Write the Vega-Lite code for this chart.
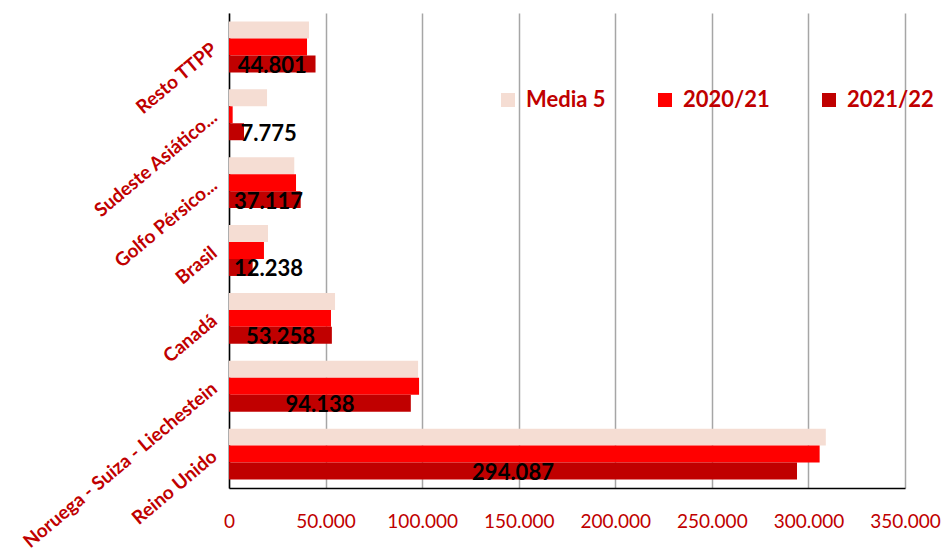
{
  "$schema": "https://vega.github.io/schema/vega-lite/v6.json",
  "width": 676,
  "height": 475,
  "autosize": {"type": "none"},
  "padding": {"left": 229, "top": 13, "right": 47, "bottom": 60},
  "background": "white",
  "config": {
    "locale": {"number": {"decimal": ",", "thousands": ".", "grouping": [3], "currency": ["", " €"]}},
    "view": {"stroke": null}
  },
  "data": {
    "values": [
      {"region": "Resto TTPP", "serie": "Media 5", "valor": 41400},
      {"region": "Resto TTPP", "serie": "2020/21", "valor": 40400},
      {"region": "Resto TTPP", "serie": "2021/22", "valor": 44801},
      {"region": "Sudeste Asiático...", "serie": "Media 5", "valor": 19700},
      {"region": "Sudeste Asiático...", "serie": "2020/21", "valor": 1900},
      {"region": "Sudeste Asiático...", "serie": "2021/22", "valor": 7775},
      {"region": "Golfo Pérsico...", "serie": "Media 5", "valor": 33800},
      {"region": "Golfo Pérsico...", "serie": "2020/21", "valor": 34700},
      {"region": "Golfo Pérsico...", "serie": "2021/22", "valor": 37117},
      {"region": "Brasil", "serie": "Media 5", "valor": 20200},
      {"region": "Brasil", "serie": "2020/21", "valor": 18100},
      {"region": "Brasil", "serie": "2021/22", "valor": 12238},
      {"region": "Canadá", "serie": "Media 5", "valor": 54900},
      {"region": "Canadá", "serie": "2020/21", "valor": 52800},
      {"region": "Canadá", "serie": "2021/22", "valor": 53258},
      {"region": "Noruega - Suiza - Liechestein", "serie": "Media 5", "valor": 97900},
      {"region": "Noruega - Suiza - Liechestein", "serie": "2020/21", "valor": 98400},
      {"region": "Noruega - Suiza - Liechestein", "serie": "2021/22", "valor": 94138},
      {"region": "Reino Unido", "serie": "Media 5", "valor": 309000},
      {"region": "Reino Unido", "serie": "2020/21", "valor": 305800},
      {"region": "Reino Unido", "serie": "2021/22", "valor": 294087}
    ]
  },
  "encoding": {
    "y": {
      "field": "region",
      "type": "nominal",
      "sort": ["Resto TTPP", "Sudeste Asiático...", "Golfo Pérsico...", "Brasil", "Canadá", "Noruega - Suiza - Liechestein", "Reino Unido"],
      "scale": {"paddingInner": 0.25, "paddingOuter": 0.125},
      "axis": {
        "title": null,
        "ticks": false,
        "grid": false,
        "labelAngle": -40,
        "labelAlign": "right",
        "labelBaseline": "middle",
        "labelColor": "#C00000",
        "labelFont": "Lato",
        "labelFontWeight": "bold",
        "labelFontSize": 19,
        "labelPadding": 15,
        "labelLimit": 400,
        "domainColor": "#000000",
        "domainWidth": 1.5
      }
    },
    "yOffset": {
      "field": "serie",
      "type": "nominal",
      "scale": {"domain": ["Media 5", "2020/21", "2021/22"], "paddingInner": 0, "paddingOuter": 0}
    }
  },
  "layer": [
    {
      "mark": {"type": "bar"},
      "encoding": {
        "x": {
          "field": "valor",
          "type": "quantitative",
          "scale": {"domain": [0, 350000], "nice": false},
          "axis": {
            "title": null,
            "values": [0, 50000, 100000, 150000, 200000, 250000, 300000, 350000],
            "format": ",.0f",
            "ticks": false,
            "labelColor": "#C00000",
            "labelFont": "Lato",
            "labelFontSize": 19,
            "labelPadding": 24,
            "labelFlush": false,
            "domainColor": "#000000",
            "domainWidth": 1.5,
            "gridColor": "#A6A6A6",
            "gridWidth": 1.5
          }
        },
        "color": {
          "field": "serie",
          "type": "nominal",
          "scale": {"domain": ["Media 5", "2020/21", "2021/22"], "range": ["#F5DDD3", "#FF0000", "#C00000"]},
          "legend": {
            "orient": "none",
            "legendX": 268,
            "legendY": 76,
            "direction": "horizontal",
            "columns": 3,
            "title": null,
            "symbolType": "square",
            "symbolSize": 196,
            "symbolStrokeWidth": 0,
            "labelFont": "Lato",
            "labelFontSize": 22,
            "labelFontWeight": "bold",
            "labelColor": "#C00000",
            "labelOffset": 7,
            "columnPadding": 48
          }
        }
      }
    },
    {
      "transform": [
        {"filter": "datum.serie === '2021/22'"},
        {"calculate": "max(datum.valor / 2, 20500)", "as": "lx"}
      ],
      "mark": {"type": "text", "font": "Lato", "fontSize": 22, "fontWeight": "bold", "color": "#000000", "align": "center", "baseline": "middle", "dy": 2},
      "encoding": {
        "x": {"field": "lx", "type": "quantitative"},
        "text": {"field": "valor", "type": "quantitative", "format": ",.0f"}
      }
    }
  ]
}
